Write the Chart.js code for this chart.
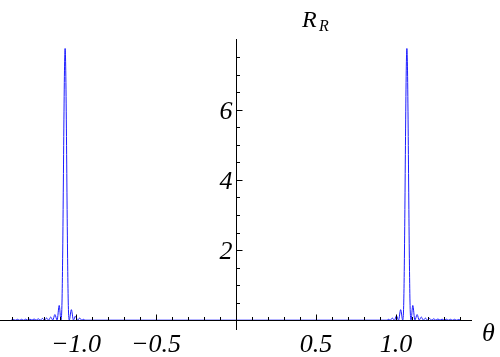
<!DOCTYPE html>
<html>
<head>
<meta charset="utf-8">
<script src="https://cdn.jsdelivr.net/npm/chart.js@4/dist/chart.umd.min.js"></script>
<style>
html,body{margin:0;padding:0;background:#fff;}
#c{display:block;}
</style>
</head>
<body>
<canvas id="c" width="500" height="357"></canvas>
<script>
// ---- data ----
const thetaValues = [
  -1.405,-1.392,-1.379,-1.366,-1.353,-1.340,-1.327,-1.314,-1.301,-1.288,-1.275,-1.262,-1.249,-1.236,-1.223,-1.210,
  -1.197,-1.184,-1.171,-1.158,-1.145,-1.132,-1.118,-1.105,-1.094,-1.088,-1.084,-1.080,-1.076,-1.072,-1.068,
  -1.064,-1.060,-1.056,-1.052,-1.048,-1.042,-1.029,-1.016,-1.003,-0.990,-0.977,-0.964,-0.951,-0.945,
  0.0,
  0.945,0.951,0.964,0.977,0.990,1.003,1.016,1.029,1.042,1.048,1.052,1.056,1.060,1.064,1.068,
  1.072,1.076,1.080,1.084,1.088,1.094,1.105,1.118,1.132,1.145,1.158,1.171,1.184,1.197,1.210,1.223,
  1.236,1.249,1.262,1.275,1.288,1.301,1.314,1.327,1.340,1.353,1.366,1.379,1.392,1.405
];
const rValues = [
  0,0.02,0,0.025,0,0.025,0,0.03,0,0.03,0,0.035,0,0.04,0,0.05,
  0,0.06,0,0.09,0,0.16,0,0.42,0,0.42,1.57,3.40,5.48,7.11,7.75,
  7.11,5.48,3.40,1.57,0.42,0,0.30,0,0.12,0,0.06,0,0.03,0,
  0,
  0,0.03,0,0.06,0,0.12,0,0.30,0,0.42,1.57,3.40,5.48,7.11,7.75,
  7.11,5.48,3.40,1.57,0.42,0,0.42,0,0.16,0,0.09,0,0.06,0,0.05,0,
  0.04,0,0.035,0,0.03,0,0.03,0,0.025,0,0.025,0,0.02,0
];
const xMajorTicks = [-1.0,-0.5,0.5,1.0];
const xMajorLabels = ["\u22121.0","\u22120.5","0.5","1.0"];
const xMinorTicks = [-1.4,-1.3,-1.2,-1.1,-0.9,-0.8,-0.7,-0.6,-0.4,-0.3,-0.2,-0.1,0.1,0.2,0.3,0.4,0.6,0.7,0.8,0.9,1.1,1.2,1.3,1.4];
const yMajorTicks = [2,4,6];
const yMajorLabels = ["2","4","6"];
const yMinorTicks = [0.5,1,1.5,2.5,3,3.5,4.5,5,5.5,6.5,7,7.5];

const points = thetaValues.map((t,i)=>({x:t,y:rValues[i]}));

const axesPlugin = {
  id:'mathAxes',
  afterDatasetsDraw(chart){
    const ctx = chart.ctx, xs = chart.scales.x, ys = chart.scales.y, a = chart.chartArea;
    const x0 = Math.round(xs.getPixelForValue(0)) + 0.5;
    const y0 = Math.round(ys.getPixelForValue(0)) + 0.5;
    ctx.save();
    ctx.strokeStyle = '#000';
    ctx.lineWidth = 1;
    ctx.beginPath();
    ctx.moveTo(a.left, y0); ctx.lineTo(a.right, y0);
    ctx.moveTo(x0, a.top); ctx.lineTo(x0, a.bottom);
    xMajorTicks.forEach(v=>{const px=Math.round(xs.getPixelForValue(v))+0.5; ctx.moveTo(px,y0); ctx.lineTo(px,y0-6);});
    xMinorTicks.forEach(v=>{const px=Math.round(xs.getPixelForValue(v))+0.5; ctx.moveTo(px,y0); ctx.lineTo(px,y0-3.5);});
    yMajorTicks.forEach(v=>{const py=Math.round(ys.getPixelForValue(v))+0.5; ctx.moveTo(x0,py); ctx.lineTo(x0+6,py);});
    yMinorTicks.forEach(v=>{const py=Math.round(ys.getPixelForValue(v))+0.5; ctx.moveTo(x0,py); ctx.lineTo(x0+3.5,py);});
    ctx.stroke();

    ctx.fillStyle = '#000';
    ctx.font = "italic 26px 'Liberation Serif', 'DejaVu Serif', serif";
    ctx.textAlign = 'center';
    ctx.textBaseline = 'alphabetic';
    xMajorTicks.forEach((v,i)=>{ ctx.fillText(xMajorLabels[i], xs.getPixelForValue(v), y0+31); });
    ctx.textAlign = 'right';
    yMajorTicks.forEach((v,i)=>{ ctx.fillText(yMajorLabels[i], x0-4, ys.getPixelForValue(v)+9); });
    ctx.textAlign = 'left';
    ctx.fillText('\u03B8', a.right+10, y0+20);
    ctx.font = "italic 24px 'Liberation Serif', 'DejaVu Serif', serif";
    ctx.fillText('R', 302, 27);
    ctx.font = "italic 16px 'Liberation Serif', 'DejaVu Serif', serif";
    ctx.fillText('R', 319, 31);
    ctx.restore();
  }
};

new Chart(document.getElementById('c'), {
  type:'line',
  data:{ datasets:[{
    data: points,
    borderColor:'#1c1cff',
    borderWidth:1,
    pointRadius:0,
    fill:false,
    tension:0,
    cubicInterpolationMode:'monotone',
    clip:false
  }]},
  options:{
    responsive:false,
    animation:false,
    devicePixelRatio:1,
    layout:{padding:{left:0,right:28,top:39,bottom:27}},
    plugins:{legend:{display:false},tooltip:{enabled:false}},
    scales:{
      x:{type:'linear',min:-1.475,max:1.475,display:false},
      y:{type:'linear',min:-0.28,max:8.02,display:false}
    }
  },
  plugins:[axesPlugin]
});
</script>
</body>
</html>
